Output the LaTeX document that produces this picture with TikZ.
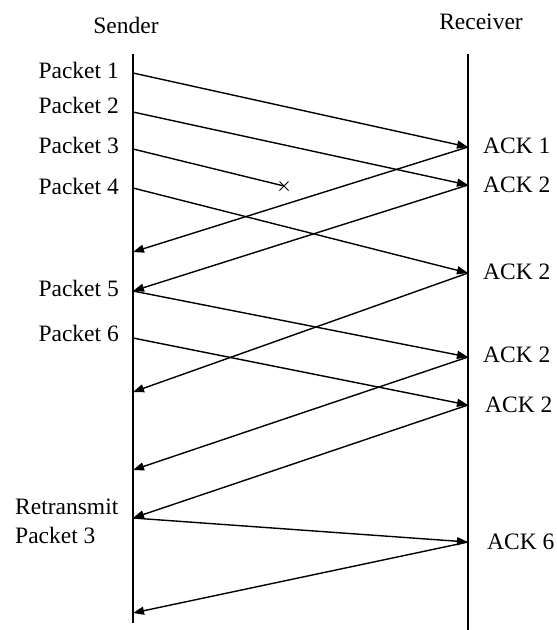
\documentclass[tikz,border=0pt]{standalone}
\usepackage{fontspec}
\setmainfont{Liberation Serif}
\usetikzlibrary{arrows.meta,shapes.misc}
\begin{document}
\begin{tikzpicture}[x=1pt,y=-1pt,
  lbl/.style={font=\fontsize{23.5}{26}\selectfont, inner sep=0pt},
  life/.style={line width=1.6pt},
  msg/.style={line width=1.4pt, -{Triangle[length=11pt,width=8pt]}},
  lostmsg/.style={line width=1.4pt}]
\useasboundingbox (0,0) rectangle (557,630);
% lifelines
\coordinate (stop) at (133,54);
\coordinate (sbot) at (133,623);
\coordinate (rtop) at (468,54);
\coordinate (rbot) at (468,630);
\draw[life] (stop) -- (sbot);
\draw[life] (rtop) -- (rbot);
% headers
\node[lbl] (sender) at (126,25) {Sender};
\node[lbl] (receiver) at (481,22) {Receiver};
% sender points
\coordinate (s1) at (133,73);
\coordinate (s2) at (133,112);
\coordinate (s3) at (133,149);
\coordinate (s4) at (133,188);
\coordinate (a1) at (133,252);
\coordinate (s5) at (133,291);
\coordinate (s6) at (133,338);
\coordinate (a3) at (133,392);
\coordinate (a4) at (133,470);
\coordinate (s7) at (133,518);
\coordinate (a6) at (133,613);
% receiver points
\coordinate (r1) at (468,147);
\coordinate (r2) at (468,185);
\coordinate (r3) at (468,273);
\coordinate (r4) at (468,357);
\coordinate (r5) at (468,405);
\coordinate (r6) at (468,542);
% lost packet
\node[cross out, draw, line width=1pt, minimum size=8pt, inner sep=0pt] (lost) at (284,186) {};
% sender labels
\node[lbl, anchor=east] (p1) at (119,70) {Packet 1};
\node[lbl, anchor=east] (p2) at (119,105) {Packet 2};
\node[lbl, anchor=east] (p3) at (119,145) {Packet 3};
\node[lbl, anchor=east] (p4) at (119,186) {Packet 4};
\node[lbl, anchor=east] (p5) at (119,288) {Packet 5};
\node[lbl, anchor=east] (p6) at (119,333) {Packet 6};
\node[lbl, anchor=west] (rt) at (15,507) {Retransmit};
\node[lbl, anchor=west] (rp3) at (15,535) {Packet 3};
% receiver labels
\node[lbl, anchor=west] (k1) at (483,146) {ACK 1};
\node[lbl, anchor=west] (k2) at (483,185) {ACK 2};
\node[lbl, anchor=west] (k3) at (483,272) {ACK 2};
\node[lbl, anchor=west] (k4) at (483,355) {ACK 2};
\node[lbl, anchor=west] (k5) at (485,405) {ACK 2};
\node[lbl, anchor=west] (k6) at (487,542) {ACK 6};
% messages
\draw[msg] (s1) -- (r1);
\draw[msg] (s2) -- (r2);
\draw[lostmsg] (s3) -- (lost.center);
\draw[msg] (s4) -- (r3);
\draw[msg] (r1) -- (a1);
\draw[msg] (r2) -- (s5);
\draw[msg] (s5) -- (r4);
\draw[msg] (s6) -- (r5);
\draw[msg] (r3) -- (a3);
\draw[msg] (r4) -- (a4);
\draw[msg] (r5) -- (s7);
\draw[msg] (s7) -- (r6);
\draw[msg] (r6) -- (a6);
\end{tikzpicture}
\end{document}
